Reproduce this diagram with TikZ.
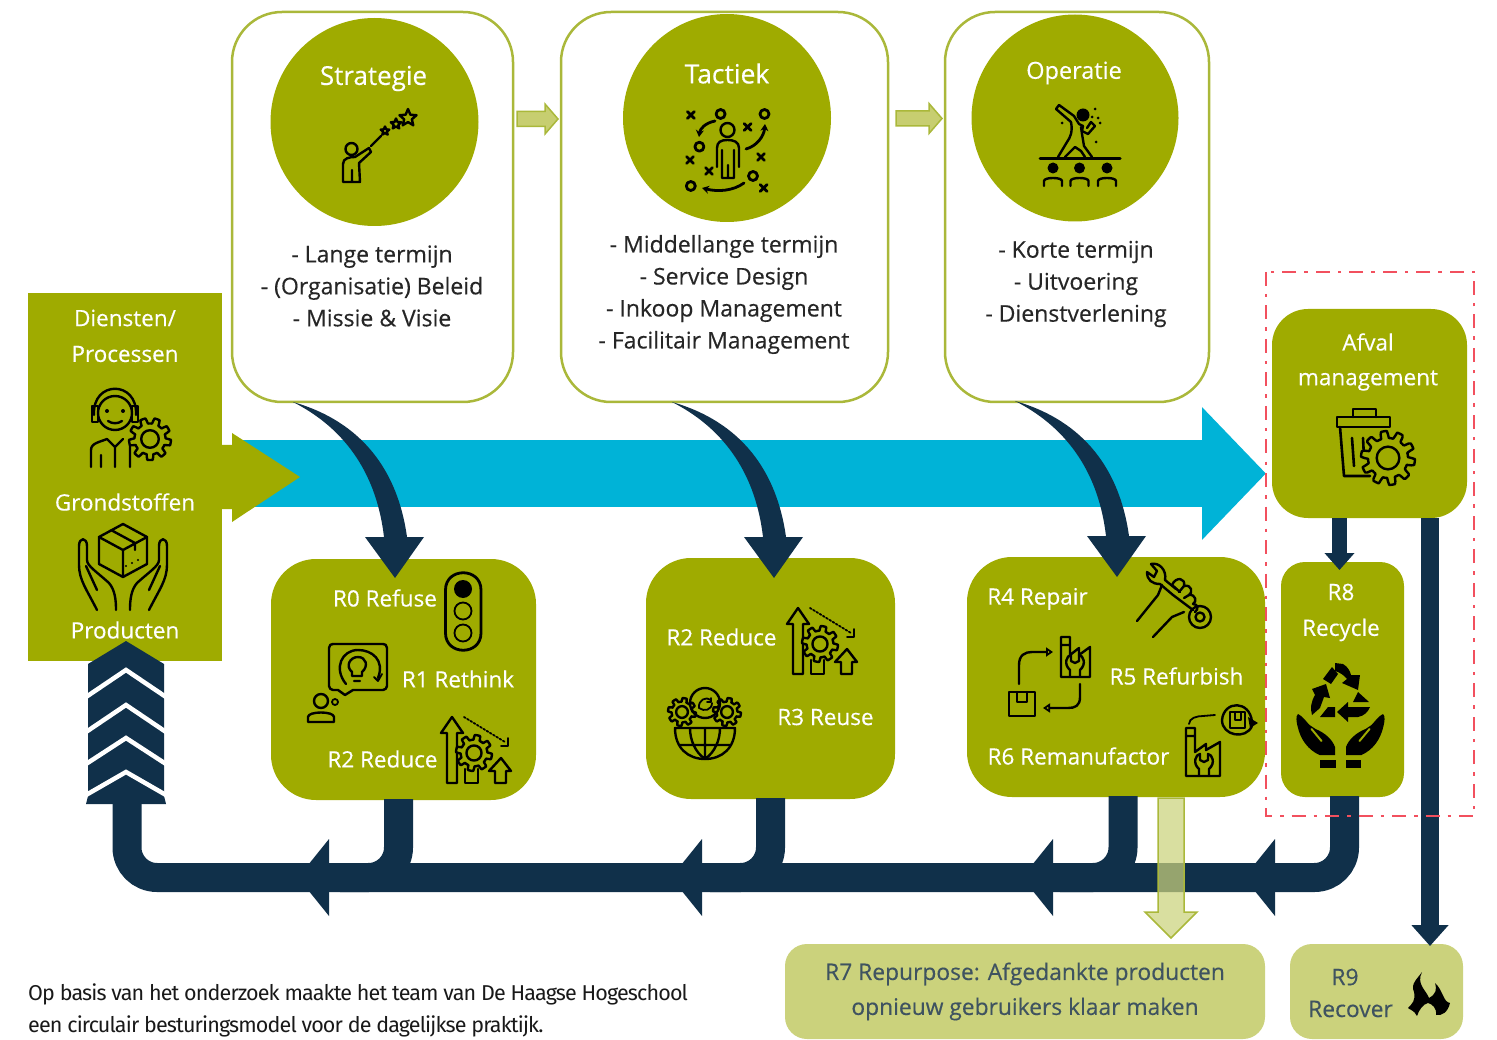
\documentclass[tikz,border=0pt]{standalone}
\usepackage{fontspec}
\setmainfont{Open Sans}[FakeBold=0.35]
\newfontfamily\capfont{Fira Sans}[LetterSpace=-4]
\usetikzlibrary{arrows.meta,calc}
\definecolor{olive}{HTML}{9FAB00}
\definecolor{oliveline}{HTML}{AAB83A}
\definecolor{pale}{HTML}{CBD27C}
\definecolor{sky}{HTML}{00B3D7}
\definecolor{navy}{HTML}{10304A}
\definecolor{slate}{HTML}{3F5360}
\definecolor{redline}{HTML}{F2505E}
\tikzset{
  card/.style={draw=oliveline,line width=2.5pt,fill=white,inner sep=0,outer sep=0,rounded corners=50pt},
  disc/.style={fill=olive,inner sep=0,outer sep=0,circle},
  box/.style={fill=olive,inner sep=0,outer sep=0},
  palebox/.style={fill=pale,inner sep=0,outer sep=0,rounded corners=22pt},
  wt/.style={text=white,inner sep=0,font=\fontsize{22.5}{26}\selectfont},
  bt/.style={text=black!85,inner sep=0,align=center,font=\fontsize{23}{32}\selectfont},
  st/.style={text=slate,inner sep=0,align=center,font=\fontsize{22.8}{26}\selectfont},
  flowline/.style={draw=navy,line width=29pt,rounded corners=30pt},
  icon/.style={draw=black,line width=2.4pt,line cap=round,line join=round},
  thin icon/.style={icon,line width=1.8pt},
}
\newcommand\igear[5][olive]{% fill, x, y, r, teeth
  \draw[icon,fill=#1,shift={(#2,#3)}] plot[domain=0:360,samples=145,variable=\t]
   ({#4*(0.87+0.13*max(-1,min(1,3*sin(#5*\t))))*cos(\t)},{#4*(0.87+0.13*max(-1,min(1,3*sin(#5*\t))))*sin(\t)}) -- cycle;
  \draw[icon,shift={(#2,#3)}] (0,0) circle[radius=#4*0.42pt];}
\newcommand\istar[3]{\draw[icon,shift={(#1,#2)}] (270:#3) -- (306:#3*0.45) -- (342:#3) -- (18:#3*0.45) -- (54:#3) -- (90:#3*0.45) -- (126:#3) -- (162:#3*0.45) -- (198:#3) -- (234:#3*0.45) -- cycle;}
\newcommand\icross[2]{\draw[icon,line width=2.8pt,shift={(#1,#2)}] (-3.5,-3.5) -- (3.5,3.5) (-3.5,3.5) -- (3.5,-3.5);}
\newcommand\iring[2]{\draw[icon,line width=2.8pt] (#1,#2) circle[radius=4.5pt];}
\newcommand\iwrenchU[2]{\draw[icon,shift={(#1,#2)}] (-5,-1) -- (-5,-7) .. controls (-12,-13) and (-8,-22) .. (-4,-22) -- (-4,-16) -- (0,-14) -- (4,-16) -- (4,-22) .. controls (8,-22) and (12,-13) .. (5,-7) -- (5,-1);}
\newcommand\ireduce[2]{\begin{scope}[shift={(#1,#2)}]
  \draw[icon] (5,66) -- (-5,66) -- (-5,16) -- (-11,16) -- (0,0) -- (11,16) -- (5,16) -- (5,66);
  \draw[icon] (13,52) -- (13,66) -- (26,66) -- (26,52);
  \draw[icon] (43,66) -- (43,54) -- (37,54) -- (49,41) -- (59,54) -- (54,54) -- (54,66) -- cycle;
  \igear{22}{36}{18}{8}
  \draw[thin icon,dotted] (12,0) -- (53,25);
  \draw[thin icon] (56,21) -- (56,29) -- (49,29);
\end{scope}}
\newcommand\curvedown[1]{\fill[navy,shift={(#1)}] (0,0) .. controls (70,20) and (105,70) .. (114,135) -- (131,135) -- (102,176) -- (72,135) -- (91,135) .. controls (84,75) and (55,28) .. (0,0) -- cycle;}
\newcommand\smallarrow[2]{\draw[fill=pale!90!olive,draw=oliveline,line width=1.5pt,shift={(#1)}] (0,-7.5) -- (#2,-7.5) -- (#2,-15) -- (#2+13,0) -- (#2,15) -- (#2,7.5) -- (0,7.5) -- cycle;}
\newcommand\barhead[1]{\fill[navy,shift={(#1)}] (0,-38.5) -- (-31,0) -- (0,38.5) -- cycle;}
\begin{document}
\begin{tikzpicture}[x=1pt,y=-1pt]
\useasboundingbox (0,0) rectangle (1497,1040);
% coordinates for free ends
\coordinate (blueStart) at (240,473.5);
\coordinate (blueEnd) at (1266,473.5);
\coordinate (c1out) at (293,402);
\coordinate (c2out) at (672,402);
\coordinate (c3out) at (1015,401);
\coordinate (r1out) at (398.5,799);
\coordinate (r2out) at (770.5,798);
\coordinate (r3out) at (1123,796);
\coordinate (r8out) at (1344.5,796);
\coordinate (cornerR) at (1344.5,877.5);
\coordinate (cornerL) at (127,877.5);
\coordinate (chevBase) at (127,800);
\coordinate (h1) at (329,877.5);
\coordinate (h2) at (702,877.5);
\coordinate (h3) at (1053,877.5);
\coordinate (h4) at (1275,877.5);
\coordinate (s1) at (517,119);
\coordinate (s2) at (896,118.5);

% blue main arrow
\draw[sky,line width=67pt,-{Triangle[length=64pt,width=129pt]}] (blueStart) -- (blueEnd);

% cards
\node[card,minimum width=281pt,minimum height=390pt] (card1) at (372.5,207) {};
\node[card,minimum width=327pt,minimum height=390pt] (card2) at (724.5,207) {};
\node[card,minimum width=264pt,minimum height=390pt] (card3) at (1077,207) {};
\smallarrow{s1}{28}
\smallarrow{s2}{33}
\node[disc,minimum size=208pt] (d1) at (374.5,122) {};
\node[disc,minimum size=208pt] (d2) at (727,118) {};
\node[disc,minimum size=207pt] (d3) at (1075,118) {};
\node[wt,font=\fontsize{26}{28}\selectfont] (tS) at (373.5,78.5) {Strategie};
\node[wt,font=\fontsize{26.5}{28}\selectfont] (tT) at (727,73.5) {Tactiek};
\node[wt,font=\fontsize{23.5}{26}\selectfont] (tO) at (1074,73) {Operatie};
\node[bt] (lS) at (372,286) {- Lange termijn\\- (Organisatie) Beleid\\- Missie \& Visie};
\node[bt] (lT) at (724,294.5) {- Middellange termijn\\- Service Design\\- Inkoop Management\\- Facilitair Management};
\node[bt] (lO) at (1076,284) {- Korte termijn\\- Uitvoering\\- Dienstverlening};

% left box
\node[box,minimum width=194pt,minimum height=368pt] (left) at (125,477) {};
\fill[olive] (222,445) -- (232,445) -- (232,433) -- (300,477) -- (232,522) -- (232,509) -- (222,509) -- cycle;
\node[wt] (tD) at (125,318) {Diensten/};
\node[wt] (tP) at (125,354) {Processen};
\node[wt] (tG) at (125,502) {Grondstoffen};
\node[wt] (tPr) at (125,630) {Producten};

% R boxes
\node[box,rounded corners=45pt,minimum width=265pt,minimum height=241pt] (r1) at (403.5,679.5) {};
\node[box,rounded corners=45pt,minimum width=249pt,minimum height=241pt] (r2) at (770.5,678.5) {};
\node[box,rounded corners=45pt,minimum width=298pt,minimum height=240pt] (r3) at (1116,677) {};
\node[box,rounded corners=24pt,minimum width=123pt,minimum height=235pt] (r8) at (1342.5,679.5) {};
\node[box,rounded corners=36pt,minimum width=195pt,minimum height=209pt] (afval) at (1369.5,413.5) {};
\node[palebox,minimum width=480pt,minimum height=95pt] (r7) at (1025,991.5) {};
\node[palebox,minimum width=173pt,minimum height=95pt] (r9) at (1376.5,991.5) {};

% curved arrows card -> R boxes
\curvedown{c1out}
\curvedown{c2out}
\curvedown{c3out}

% return flow
\draw[flowline] (r8out) -- (cornerR) -- (cornerL) -- (chevBase);
\draw[flowline] (r1out) -- (398.5,877.5) -- (340,877.5);
\draw[flowline] (r2out) -- (770.5,877.5) -- (710,877.5);
\draw[flowline] (r3out) -- (1123,877.5) -- (1060,877.5);
\barhead{h1}\barhead{h2}\barhead{h3}\barhead{h4}

% chevron column
\fill[navy] (126,641) -- (88,664) -- (88,796) -- (86,804) -- (166,804) -- (164,796) -- (164,664) -- cycle;
\foreach \p/\q in {670/27,705/27,738/26,772/23}{
  \draw[white,line width=4.5pt,line join=miter] (86,\p+\q) -- (126,\p) -- (166,\p+\q);}

% afval -> R8, afval -> R9
\coordinate (a8) at (1339.5,518);
\coordinate (a8end) at (1339.5,570);
\coordinate (a9) at (1430,518);
\coordinate (a9end) at (1430,946);
\draw[navy,line width=15pt,-{Triangle[length=17pt,width=29pt]}] (a8) -- (a8end);
\draw[navy,line width=18pt,-{Triangle[length=21pt,width=36pt]}] (a9) -- (a9end);

% R7 arrow (translucent)
\coordinate (a7) at (1171,798);
\draw[fill=pale,fill opacity=.72,draw=oliveline,line width=1.5pt,shift={(a7)}] (-13,0) -- (13,0) -- (13,114) -- (26,114) -- (0,140) -- (-26,114) -- (-13,114) -- cycle;

% red frame
\draw[redline,line width=2.8pt,dash pattern=on 14pt off 8pt on 3.5pt off 8pt] (1266,272) rectangle (1474,816);

% labels
\node[wt] (t0) at (385,598) {R0 Refuse};
\node[wt] (t1) at (458,679) {R1 Rethink};
\node[wt] (t2) at (382.5,759) {R2 Reduce};
\node[wt] (t2b) at (721.5,637) {R2 Reduce};
\node[wt] (t3) at (825.5,717) {R3 Reuse};
\node[wt] (t4) at (1037.5,599) {R4 Repair};
\node[wt] (t5) at (1176.5,676) {R5 Refurbish};
\node[wt] (t6) at (1078.5,756) {R6 Remanufactor};
\node[wt] (t8) at (1341,592) {R8};
\node[wt] (t8b) at (1341,630) {Recycle};
\node[wt] (tA) at (1368,342) {Afval};
\node[wt] (tM) at (1368,380.5) {management};
\node[st] (t7a) at (1025,974) {R7 Repurpose: Afgedankte producten};
\node[st] (t7b) at (1025,1009) {opnieuw gebruikers klaar maken};
\node[st] (t9a) at (1345,977) {R9};
\node[st] (t9b) at (1350.5,1009) {Recover};
\node[anchor=west,inner sep=0,align=left,text=black!90,font=\capfont\fontsize{21.5}{32}\selectfont] (cap) at (28,1010.5) {Op basis van het onderzoek maakte het team van De Haagse Hogeschool\\een circulair besturingsmodel voor de dagelijkse praktijk.};

% ---- icons ----
% strategy
\draw[icon] (351.5,149) circle[radius=6pt];
\draw[icon] (343,182) -- (343,164) .. controls (343,158) and (350,157) .. (355,157) -- (369,148) -- (371,152) -- (359,163) -- (360,182) -- (352,182) -- (352,170) (352,182) -- (343,182);
\draw[icon] (371,146) -- (381,136);
\istar{385}{131}{4.5}\istar{396}{124}{5.5}\istar{408}{118}{9}
% tactic
\draw[icon] (727.5,130) circle[radius=7pt];
\draw[icon] (717,167) -- (717,148) .. controls (717,142) and (721,140) .. (727.5,140) .. controls (734,140) and (739,142) .. (739,148) -- (739,167) (722,150) -- (722,178) -- (734,178) -- (734,150) (728,165) -- (728,178);
\icross{690.8}{115}\icross{747.6}{127}\icross{690}{160}\icross{761}{157}\icross{709}{171}\icross{763.7}{188}
\iring{720.6}{114}\iring{764.5}{114}\iring{699.4}{146.7}\iring{753}{176}\iring{690.8}{186}
\draw[icon,line width=2.8pt,-{Stealth[length=7pt,width=8pt]}] (715,121) .. controls (705,123) and (700,129) .. (699,137);
\draw[icon,line width=2.8pt,-{Stealth[length=7pt,width=8pt]}] (746,149) .. controls (757,146) and (764,136) .. (765,124);
\draw[icon,line width=2.8pt,-{Stealth[length=7pt,width=8pt]}] (744,183) .. controls (733,191) and (718,192) .. (702,188);
% operation
\fill (1083,115) circle[radius=6.5pt];
\draw[icon] (1059,105) -- (1074,116) -- (1079,124) -- (1083,126) (1059,105) -- (1056,109) -- (1071,122);
\draw[icon] (1071,122) .. controls (1073,132) and (1070,138) .. (1067,142) -- (1058,157);
\draw[icon] (1065,157) -- (1075,147) -- (1081,151) -- (1085,157);
\draw[icon] (1081,127) -- (1082,134) -- (1084,146) -- (1092,157);
\draw[icon] (1083,126) -- (1082,131) -- (1088,134) -- (1095,126) -- (1091,122) -- (1087,128);
\fill (1095,109) circle[radius=1.5pt] (1062,123) circle[radius=1.5pt] (1096,142) circle[radius=1.5pt] (1098,118) circle[radius=1.5pt] (1092,117) circle[radius=1.5pt] (1100,123) circle[radius=1.5pt];
\draw[icon,line width=3pt] (1040,159) -- (1120,159);
\foreach \h in {1053,1079.5,1107}{
  \fill (\h,168) circle[radius=5.5pt];
  \draw[icon] (\h-9,186) -- (\h-9,181) .. controls (\h-9,177) and (\h+9,177) .. (\h+9,181) -- (\h+9,186);}
% headset person
\draw[icon] (115,413) circle[radius=17pt];
\draw[icon] (94,415) .. controls (92,380) and (138,380) .. (136,415);
\draw[icon] (92,406) rectangle (98,422);
\draw[icon] (132,406) rectangle (138,422);
\fill (107,411) circle[radius=2pt] (123,411) circle[radius=2pt];
\draw[icon] (108,421) .. controls (112,424) and (118,424) .. (122,421);
\draw[icon] (91,467) -- (91,450) .. controls (91,443) and (100,442) .. (107,439) -- (115,447) -- (123,439) (115,447) -- (115,467) (101,455) -- (101,467) (130,445) -- (130,467);
\igear{150}{439}{21}{9}
% hands + box
\draw[icon] (123,524) -- (147,537) -- (147,564) -- (123,577) -- (99,564) -- (99,537) -- cycle (99,537) -- (123,550) -- (147,537) (123,550) -- (123,577) (111,530) -- (135,543) -- (135,550);
\fill (126,566) circle[radius=1.2pt] (132,563) circle[radius=1.2pt] (138,560) circle[radius=1.2pt];
\foreach \m in {1,-1}{
\begin{scope}[shift={(123,0)},xscale=\m]
  \draw[icon] (-26,610) .. controls (-36,590) and (-44,580) .. (-44,565) -- (-44,546) .. controls (-44,537) and (-36,537) .. (-36,546) -- (-36,560) .. controls (-36,566) and (-26,572) .. (-14,583) .. controls (-8,590) and (-7,600) .. (-7,610);
  \draw[icon] (-37,566) -- (-26,590);
\end{scope}}
% traffic light
\draw[icon,line width=2.8pt] (445.5,590) .. controls (445.5,567) and (481,567) .. (481,590) -- (481,633) .. controls (481,656) and (445.5,656) .. (445.5,633) -- cycle;
\fill (463,589) circle[radius=9pt];
\draw[thin icon] (463,611) circle[radius=8.5pt] (463,633) circle[radius=8.5pt];
% rethink
\draw[icon] (329,648) .. controls (329,645) and (331,644) .. (333,644) -- (383,644) .. controls (385,644) and (387,645) .. (387,648) -- (387,686) .. controls (387,688) and (385,690) .. (383,690) -- (353,690) -- (345,695) -- (338,690) -- (333,690) .. controls (331,690) and (329,688) .. (329,686) -- cycle;
\draw[icon] (378,678) .. controls (385,660) and (372,650) .. (358,650) .. controls (342,650) and (333,668) .. (346,684);
\draw[icon] (352,676) -- (352,672) .. controls (345,666) and (350,657) .. (358,657) .. controls (366,657) and (369,666) .. (362,672) -- (362,676) -- cycle (354,681) -- (360,681);
\draw[thin icon] (374,677) -- (378,681) -- (382,674);
\draw[thin icon] (335,702) circle[radius=3pt];
\draw[icon] (321,701) circle[radius=7pt];
\draw[icon] (308,722) -- (308,717) .. controls (308,711) and (334,711) .. (334,717) -- (334,722) -- cycle;
% reduce
\ireduce{452}{717}
\ireduce{798}{608}
% globe gears
\draw[icon] (675,728) -- (735,728) .. controls (735,748) and (722,759) .. (705,759) .. controls (688,759) and (675,748) .. (675,728) -- cycle;
\draw[icon] (705,728) -- (705,759) (690,728) .. controls (690,740) and (695,752) .. (705,759) (720,728) .. controls (720,740) and (715,752) .. (705,759) (680,745) -- (730,745);
\igear{682}{712}{14}{8}
\igear{727}{712}{14}{8}
\draw[icon] (705,703) circle[radius=15pt];
\draw[thin icon] (699,708) .. controls (698,700) and (706,696) .. (711,700) (711,698) -- (711,702) -- (707,702);
\draw[thin icon] (712,703) .. controls (712,710) and (704,712) .. (699,708);
% wrench hand
\draw[icon] (1151,564) .. controls (1159,562) and (1167,570) .. (1165,580) -- (1176,589);
\draw[icon] (1151,564) -- (1157,571) -- (1154,577) -- (1147,572) .. controls (1147,580) and (1152,584) .. (1160,584) -- (1173,595) -- (1193,610);
\draw[icon] (1200,617) circle[radius=11pt] (1200,617) circle[radius=4.5pt];
\draw[icon] (1137,621) -- (1158,595) -- (1162,585);
\draw[icon] (1153,637) -- (1172,617) -- (1184,612);
\draw[icon] (1172,585) .. controls (1176,576) and (1186,578) .. (1184,586) .. controls (1192,584) and (1193,593) .. (1189,595) .. controls (1196,594) and (1197,602) .. (1193,604) .. controls (1198,604) and (1199,609) .. (1195,612);
\draw[icon] (1172,585) -- (1180,592) (1184,586) -- (1179,592) (1189,595) -- (1184,598);
% box factory loop
\draw[icon] (1009,692) rectangle (1035,716) (1017,692) -- (1017,702) -- (1027,702) -- (1027,692);
\draw[icon] (1061,677) -- (1061,637) -- (1070,637) -- (1070,655) -- (1079,648) -- (1079,655) -- (1090,647) -- (1090,677) -- cycle (1061,645) -- (1070,645);
\iwrenchU{1075}{677}
\draw[icon,-{Triangle[open,length=7pt,width=9pt]}] (1019,684) -- (1019,665) .. controls (1019,655) and (1025,652) .. (1032,652) -- (1053,652);
\draw[icon,-{Triangle[open,length=7pt,width=9pt]}] (1080,684) -- (1080,697) .. controls (1080,706) and (1075,708) .. (1068,708) -- (1043,708);
% factory + circle
\draw[icon] (1186,776) -- (1186,728) -- (1195,728) -- (1195,752) -- (1206,744) -- (1206,750) -- (1220,742) -- (1220,776) -- cycle (1186,736) -- (1195,736);
\iwrenchU{1204}{776}
\draw[thin icon] (1189,724) .. controls (1189,718) and (1197,716) .. (1203,716) -- (1215,715);
\draw[icon] (1252,722) .. controls (1250,700) and (1224,700) .. (1222,720) .. controls (1222,736) and (1246,740) .. (1252,726);
\draw[icon] (1230,712) rectangle (1245,728);
\draw[thin icon] (1235,712) -- (1235,720) -- (1241,720) -- (1241,712);
\fill (1248,717) -- (1258,723) -- (1250,728) -- cycle;
% recycle hands
\fill[line join=round] (1335,663) -- (1343,664) .. controls (1348,667) and (1350,671) .. (1351,675) -- (1360,675) -- (1358,690) -- (1342,683) -- (1347,679) .. controls (1344,675) and (1339,672) .. (1335,671) -- cycle;
\fill (1332,667) -- (1323,679) -- (1331,684) -- (1338,674) -- cycle;
\fill (1358,692) -- (1369,702) -- (1353,702) -- cycle;
\fill (1326,684) -- (1330,698) -- (1324,697) -- (1320,708) -- (1312,715) .. controls (1310,708) and (1311,702) .. (1315,695) -- (1312,689) -- cycle;
\fill (1328,707) -- (1320,717) -- (1335,717) -- (1335,707) -- cycle;
\fill (1337,712) -- (1348,702) -- (1348,707) -- (1370,707) .. controls (1368,712) and (1364,716) .. (1358,717) -- (1348,717) -- (1348,722) -- cycle;
\foreach \m in {1,-1}{
\begin{scope}[shift={(1340.5,0)},xscale=\m]
  \fill (-42.5,714) .. controls (-45,716) and (-44,722) .. (-43,726) .. controls (-40,740) and (-32,750) .. (-21,755) -- (-5.5,755) -- (-5.5,747) .. controls (-8,740) and (-15,733) .. (-25,729) -- (-31,725) .. controls (-34,722) and (-38,716) .. (-42.5,714) -- cycle;
  \draw[olive,line width=2pt,line cap=round] (-29,729) -- (-19,741);
  \fill (-20.5,760) rectangle (-5,768);
\end{scope}}
% trash + gear
\draw[icon,line width=2.6pt] (1353,417) -- (1353,409) -- (1376,409) -- (1376,417);
\draw[icon,line width=2.6pt] (1337,419) -- (1337,427) -- (1390,427) -- (1390,417) -- (1337,417) -- cycle;
\draw[icon,line width=2.6pt] (1340,427) -- (1344,476) -- (1370,476);
\draw[icon,line width=2.6pt] (1352,438) -- (1354,466) (1363,438) -- (1364,458);
\igear{1388}{458}{27}{10}
% flame
\fill (1422,972) .. controls (1416,984) and (1426,990) .. (1429,998) .. controls (1436,994) and (1437,990) .. (1435,983) .. controls (1443,990) and (1443,1002) .. (1450,1003) .. controls (1448,1012) and (1442,1016) .. (1436,1015) .. controls (1437,1008) and (1432,1004) .. (1428,1003) .. controls (1423,1004) and (1419,1010) .. (1417,1016) .. controls (1414,1010) and (1410,1010) .. (1408,1008) .. controls (1412,1004) and (1416,1000) .. (1414,992) .. controls (1410,984) and (1418,978) .. (1422,972) -- cycle;
\end{tikzpicture}
\end{document}
